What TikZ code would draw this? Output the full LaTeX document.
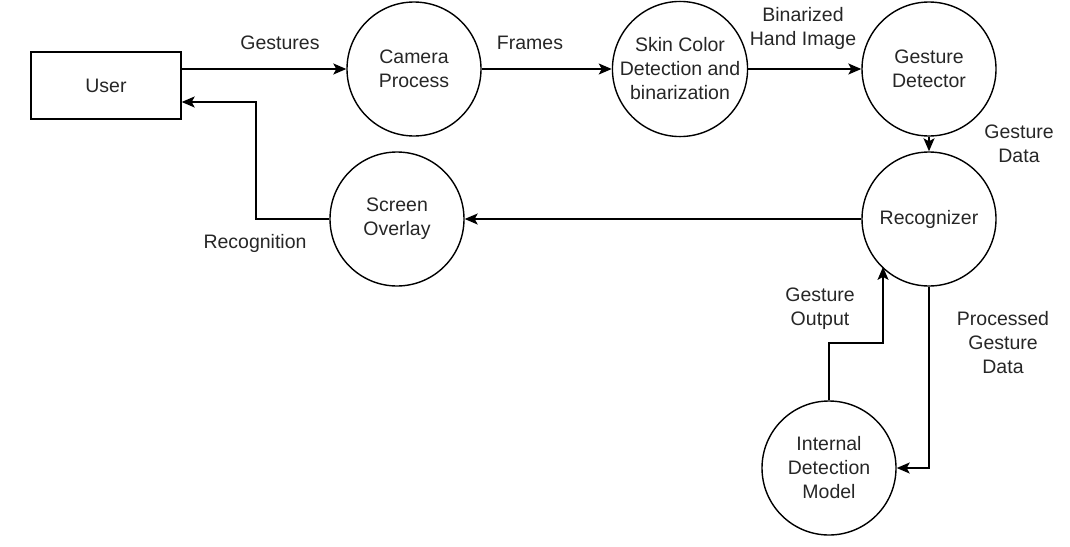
\documentclass[tikz,border=0pt]{standalone}
\usepackage{fontspec}
\setmainfont{Liberation Sans}
\usetikzlibrary{arrows.meta}
\begin{document}
\begin{tikzpicture}[x=1pt,y=-1pt,
  every node/.style={font=\fontsize{19.5}{24}\selectfont, text=black!85, align=center},
  proc/.style={draw=black, line width=1.4pt, circle, minimum size=134pt, inner sep=0pt},
  ent/.style={draw=black, line width=1.4pt, rectangle, minimum width=150pt, minimum height=67pt},
  arr/.style={draw=black, line width=1.4pt, -{Stealth[length=13pt,width=11pt,inset=3pt]}},
  lbl/.style={inner sep=0pt}]
\useasboundingbox (0,0) rectangle (1070,546);
\node[ent] (user) at (106,85.5) {User};
\node[proc] (cam) at (414,69) {Camera\\Process};
\node[proc] (skin) at (680,69) {Skin Color\\Detection and\\binarization};
\node[proc] (det) at (929,69) {Gesture\\Detector};
\node[proc] (rec) at (929,219) {Recognizer};
\node[proc] (scr) at (397,219) {Screen\\Overlay};
\node[proc] (idm) at (829,468) {Internal\\Detection\\Model};

\coordinate (rk) at (256,102);
\coordinate (gobend) at (883,343);

\draw[arr] (user.east |- cam.west) -- (cam.west);
\draw[arr] (cam.east) -- (skin.west);
\draw[arr] (skin.east) -- (det.west);
\draw[arr] (det.south) -- (rec.north);
\draw[arr] (rec.west) -- (scr.east);
\draw[arr] (scr.west) -| (rk) -- (user.east |- rk);
\draw[arr] (idm.north) |- (gobend) -- (gobend |- rec.-135);
\draw[arr] (rec.south) |- (idm.east);

\node[lbl] (lg) at (280,43) {Gestures};
\node[lbl] (lf) at (530,43) {Frames};
\node[lbl] (lb) at (803,28) {Binarized\\Hand Image};
\node[lbl] (ld) at (1019,144) {Gesture\\Data};
\node[lbl] (lr) at (255,243) {Recognition};
\node[lbl] (lo) at (820,309) {Gesture\\Output};
\node[lbl] (lp) at (1003,343) {Processed\\Gesture\\Data};
\end{tikzpicture}
\end{document}
